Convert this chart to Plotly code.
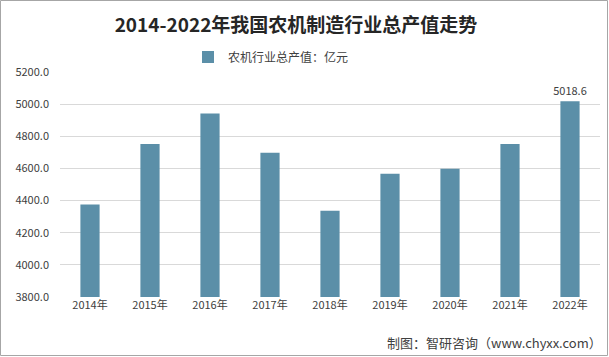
import plotly.graph_objects as go

years = ["2014年", "2015年", "2016年", "2017年", "2018年", "2019年", "2020年", "2021年", "2022年"]
values = [4375, 4752, 4942, 4697, 4336, 4567, 4598, 4752, 5018.6]
labels = ["", "", "", "", "", "", "", "", "5018.6"]
series_name = "农机行业总产值：亿元"
y_ticks = [3800, 4000, 4200, 4400, 4600, 4800, 5000, 5200]

W, H = 609, 357
ml, mr, mt, mb = 60, 9, 72, 60
pw, ph = W - ml - mr, H - mt - mb

font_fam = "Microsoft YaHei, Noto Sans CJK SC, sans-serif"

fig = go.Figure()
fig.add_trace(go.Bar(
    x=years, y=values, name=series_name,
    marker=dict(color="#5B8FA8", line=dict(width=0)),
    text=labels, textposition="outside", cliponaxis=False, constraintext="none",
    textfont=dict(size=11, color="#404040", family=font_fam),
))

fig.update_layout(
    width=W, height=H,
    margin=dict(l=ml, r=mr, t=mt, b=mb, autoexpand=False),
    paper_bgcolor="white", plot_bgcolor="white",
    bargap=0.68,
    showlegend=True,
    title=dict(text="<b>2014-2022年我国农机制造行业总产值走势</b>", x=296 / W, xanchor="center",
               y=1 - 25 / H, yanchor="middle",
               font=dict(size=19, color="#262626", family="Noto Sans CJK SC, sans-serif")),
    legend=dict(orientation="h", x=(188 - ml) / pw, xanchor="left", y=1 + (mt - 57) / ph, yanchor="middle",
                font=dict(size=12, color="#404040", family=font_fam), bgcolor="rgba(0,0,0,0)",
                itemwidth=30),
    xaxis=dict(type="category", showgrid=False, showline=False, ticks="",
               tickfont=dict(size=11, color="#404040", family=font_fam)),
    yaxis=dict(range=[3800, 5200], tickvals=y_ticks, tickformat=".1f", showgrid=True,
               gridcolor="#D9D9D9", gridwidth=1, zeroline=False, showline=False, ticks="",
               ticklabelstandoff=10,
               tickfont=dict(size=11, color="#404040", family=font_fam)),
    shapes=[dict(type="rect", xref="paper", yref="paper",
                 x0=(0.5 - ml) / pw, x1=(W - 1.5 - ml) / pw,
                 y0=-(mb - 1.5) / ph, y1=1 + (mt - 0.5) / ph,
                 line=dict(color="#A6A6A6", width=1), fillcolor="rgba(0,0,0,0)")],
    annotations=[dict(text="制图：智研咨询（www.chyxx.com）", xref="paper", yref="paper",
                      x=(604 - ml) / pw, xanchor="right", y=-(342 - (H - mb)) / ph, yanchor="middle",
                      showarrow=False, font=dict(size=13, color="#404040", family=font_fam))],
)

fig.write_html("out.html", config={"displayModeBar": False, "displaylogo": False},
               post_script="document.body.style.margin='0';document.body.style.overflow='hidden';")
